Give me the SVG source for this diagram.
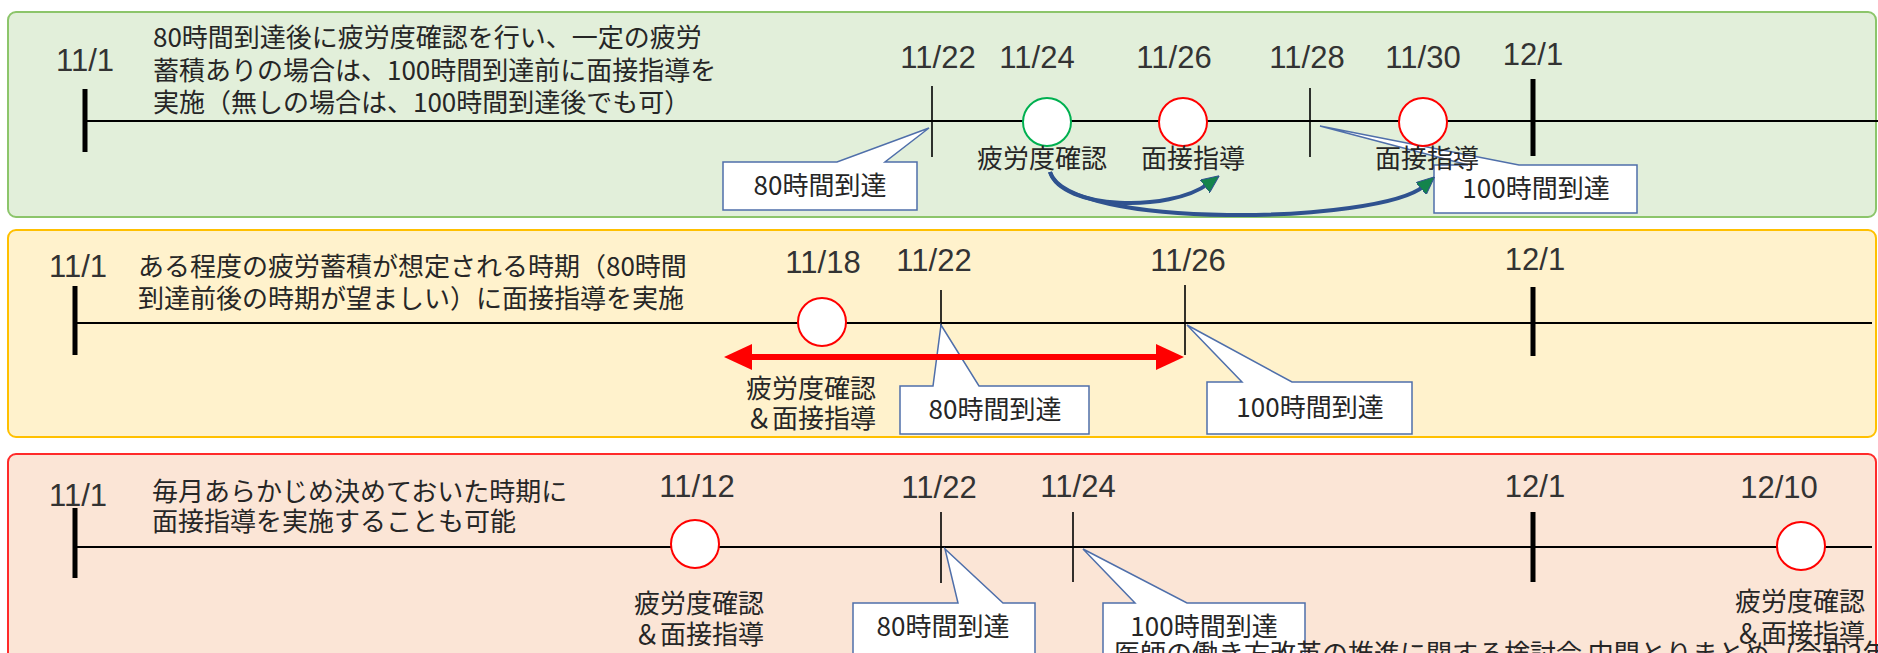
<svg xmlns="http://www.w3.org/2000/svg" width="1878" height="653" viewBox="0 0 1878 653">
<style>
.date{font-family:"Liberation Sans",Arial,sans-serif;font-size:31px;fill:#333;text-anchor:middle}
.jp{font-family:"Noto Sans CJK JP","Noto Sans",sans-serif;font-size:26px;fill:#262626}
.jpc{font-family:"Noto Sans CJK JP","Noto Sans",sans-serif;font-size:26px;fill:#262626;text-anchor:middle}
.axis{stroke:#000;stroke-width:2;fill:none}
.thick{stroke:#000;stroke-width:5;fill:none}
.thin{stroke:#000;stroke-width:1.6;fill:none}
.call{fill:#fff;stroke:#4F6FAA;stroke-width:1.5}
.cg{fill:#fff;stroke:#00B050;stroke-width:2}
.cr{fill:#fff;stroke:#FF0000;stroke-width:2}
.curve{fill:none;stroke:#2F528F;stroke-width:4}
</style>
<defs>
<marker id="gh" markerUnits="userSpaceOnUse" markerWidth="18" markerHeight="16" refX="4" refY="8" orient="auto">
<path d="M0,0 L18,8 L0,16 Z" fill="#14844C" stroke="#2F528F" stroke-width="1"/>
</marker>
</defs>

<!-- Panel 1 -->
<g id="panel1">
<rect x="8" y="12" width="1868" height="205" rx="8" fill="#E2EFDA" stroke="#8CC56A" stroke-width="2"/>
<text class="jp" x="153" y="47">80時間到達後に疲労度確認を行い、一定の疲労</text>
<text class="jp" x="153" y="80">蓄積ありの場合は、100時間到達前に面接指導を</text>
<text class="jp" x="153" y="112">実施（無しの場合は、100時間到達後でも可）</text>
<line class="axis" x1="86" y1="121" x2="1878" y2="121"/>
<line class="thick" x1="85" y1="89" x2="85" y2="152"/>
<line class="thick" x1="1533" y1="79" x2="1533" y2="156"/>
<line class="thin" x1="932" y1="86" x2="932" y2="157"/>
<line class="thin" x1="1310" y1="88" x2="1310" y2="157"/>
<text class="date" x="85" y="71">11/1</text>
<text class="date" x="938" y="68">11/22</text>
<text class="date" x="1037" y="68">11/24</text>
<text class="date" x="1174" y="68">11/26</text>
<text class="date" x="1307" y="68">11/28</text>
<text class="date" x="1423" y="68">11/30</text>
<text class="date" x="1533" y="65">12/1</text>
</g>
<g id="p1-call80">
<path class="call" d="M723,162 L837,162 L929,128 L885,162 L917,162 L917,210 L723,210 Z"/>
<text class="jpc" x="820" y="195">80時間到達</text>
</g>
<g id="p1-call100">
<path class="call" d="M1434,165 L1468,165 L1320,126 L1519,165 L1637,165 L1637,213 L1434,213 Z"/>
<text class="jpc" x="1536" y="198">100時間到達</text>
</g>
<g id="p1-fatigue">
<circle class="cg" cx="1047" cy="122" r="24"/>
<text class="jpc" x="1042" y="168">疲労度確認</text>
</g>
<g id="p1-interview1">
<circle class="cr" cx="1183" cy="122" r="24"/>
<text class="jpc" x="1193" y="168">面接指導</text>
</g>
<g id="p1-interview2">
<circle class="cr" cx="1423" cy="122" r="24"/>
<text class="jpc" x="1427" y="168">面接指導</text>
</g>

<!-- Panel 2 -->
<g id="panel2">
<rect x="8" y="230" width="1868" height="207" rx="8" fill="#FFF2CC" stroke="#FFC000" stroke-width="2"/>
<text class="jp" x="138" y="276">ある程度の疲労蓄積が想定される時期（80時間</text>
<text class="jp" x="138" y="308">到達前後の時期が望ましい）に面接指導を実施</text>
<line class="axis" x1="75" y1="323" x2="1872" y2="323"/>
<line class="thick" x1="75" y1="286" x2="75" y2="355"/>
<line class="thick" x1="1533" y1="287" x2="1533" y2="356"/>
<line class="thin" x1="941" y1="290" x2="941" y2="360"/>
<line class="thin" x1="1185" y1="285" x2="1185" y2="355"/>
<text class="date" x="78" y="277">11/1</text>
<text class="date" x="823" y="273">11/18</text>
<text class="date" x="934" y="271">11/22</text>
<text class="date" x="1188" y="271">11/26</text>
<text class="date" x="1535" y="270">12/1</text>
</g>
<g id="p2-event">
<circle class="cr" cx="822" cy="322" r="24"/>
<text class="jpc" x="811" y="398">疲労度確認</text>
<text class="jpc" x="811" y="428">＆面接指導</text>
</g>
<g id="p2-call80">
<path class="call" d="M900,386 L933,386 L941,325 L979,386 L1089,386 L1089,434 L900,434 Z"/>
<text class="jpc" x="995" y="419">80時間到達</text>
</g>
<g id="p2-call100">
<path class="call" d="M1207,382 L1242,382 L1187,325 L1292,382 L1412,382 L1412,434 L1207,434 Z"/>
<text class="jpc" x="1310" y="417">100時間到達</text>
</g>

<!-- Panel 3 -->
<g id="panel3">
<rect x="8" y="454" width="1868" height="230" rx="8" fill="#FBE5D6" stroke="#FF2A2A" stroke-width="2"/>
<text class="jp" x="152" y="501">毎月あらかじめ決めておいた時期に</text>
<text class="jp" x="152" y="531">面接指導を実施することも可能</text>
<line class="axis" x1="75" y1="547" x2="1872" y2="547"/>
<line class="thick" x1="75" y1="508" x2="75" y2="578"/>
<line class="thick" x1="1533" y1="512" x2="1533" y2="582"/>
<line class="thin" x1="941" y1="512" x2="941" y2="583"/>
<line class="thin" x1="1073" y1="512" x2="1073" y2="582"/>
<text class="date" x="78" y="506">11/1</text>
<text class="date" x="697" y="497">11/12</text>
<text class="date" x="939" y="498">11/22</text>
<text class="date" x="1078" y="497">11/24</text>
<text class="date" x="1535" y="497">12/1</text>
<text class="date" x="1779" y="498">12/10</text>
</g>
<g id="p3-event1">
<circle class="cr" cx="695" cy="544" r="24"/>
<text class="jpc" x="699" y="613">疲労度確認</text>
<text class="jpc" x="699" y="644">＆面接指導</text>
</g>
<g id="p3-event2">
<circle class="cr" cx="1801" cy="546" r="24"/>
<text class="jpc" x="1800" y="611">疲労度確認</text>
<text class="jpc" x="1800" y="643">＆面接指導</text>
</g>
<g id="p3-call80">
<path class="call" d="M853,603 L958,603 L945,549 L1003,603 L1035,603 L1035,665 L853,665 Z"/>
<text class="jpc" x="943" y="636">80時間到達</text>
</g>
<g id="p3-call100">
<path class="call" d="M1103,603 L1135,603 L1083,549 L1187,603 L1305,603 L1305,665 L1103,665 Z"/>
<text class="jpc" x="1204" y="636">100時間到達</text>
</g>

<g id="connectors">
<path class="curve" d="M1050,172 C1062,210 1170,212 1208,184" marker-end="url(#gh)"/>
<path class="curve" d="M1050,172 C1068,230 1380,224 1424,186" marker-end="url(#gh)"/>
<line x1="750" y1="357" x2="1158" y2="357" stroke="#FF0000" stroke-width="6"/>
<polygon points="724,357 752,344 752,370" fill="#FF0000"/>
<polygon points="1184,357 1156,344 1156,370" fill="#FF0000"/>
</g>

<g id="footer">
<text class="jp" x="1114" y="663" font-size="24">医師の働き方改革の推進に関する検討会 中間とりまとめ（令和2年12月</text>
</g>
</svg>
